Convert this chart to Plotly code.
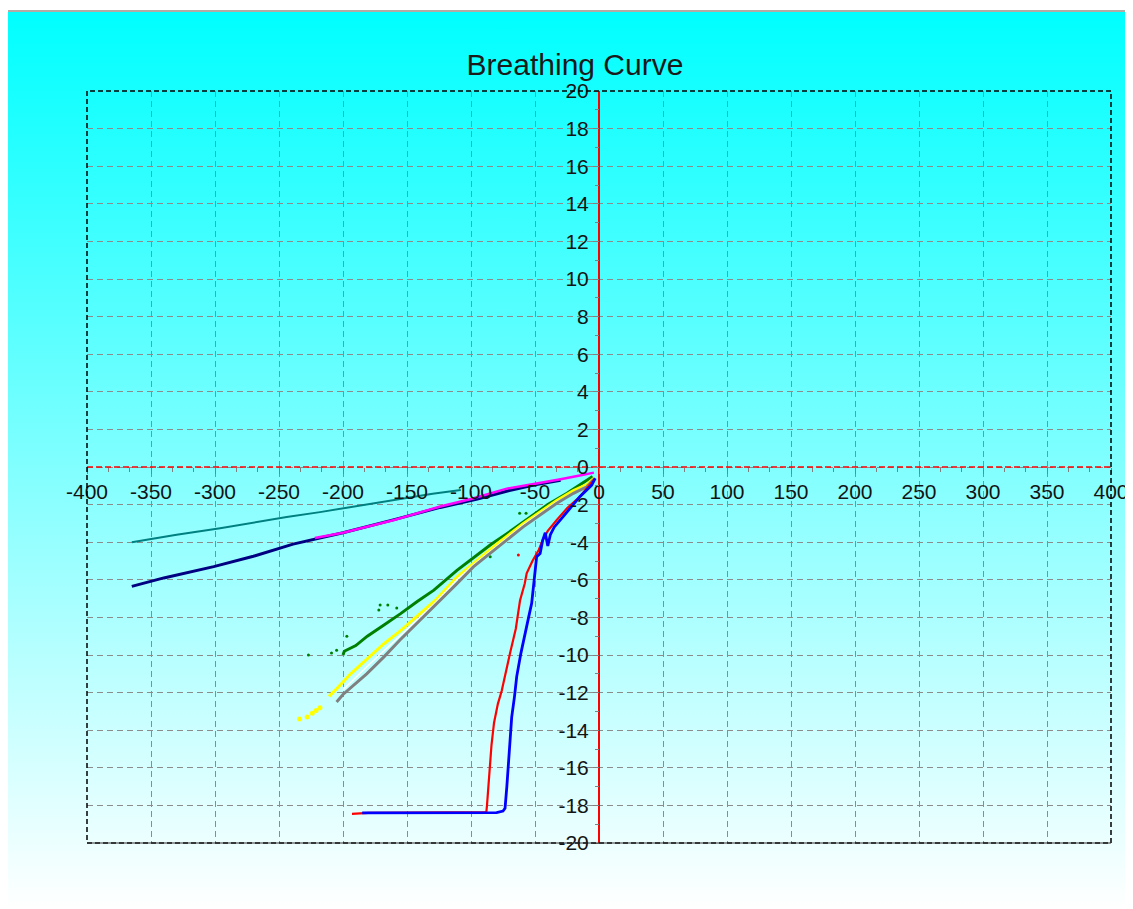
import base64
import plotly.graph_objects as go

# ---------------- data ----------------
teal_x = [-365, -352, -330, -296, -270, -244, -218, -192, -171, -150, -130, -108]
teal_y = [-4.0, -3.85, -3.6, -3.26, -2.95, -2.66, -2.4, -2.11, -1.86, -1.64, -1.42, -1.22]

navy_x = [-365, -340, -301, -270, -239, -200, -160, -124, -95, -70, -50, -30]
navy_y = [-6.35, -5.9, -5.3, -4.75, -4.1, -3.5, -2.8, -2.15, -1.7, -1.25, -0.95, -0.7]

magenta_x = [-222, -200, -186, -160, -124, -100, -72, -50, -30, -15, -4]
magenta_y = [-3.78, -3.5, -3.26, -2.82, -2.1, -1.7, -1.15, -0.9, -0.65, -0.45, -0.3]

green_x = [-200, -199, -190, -181, -168, -155, -142, -129, -111, -98, -85, -72, -55, -40, -25, -12, -5]
green_y = [-10.0, -9.8, -9.5, -9.0, -8.4, -7.8, -7.15, -6.55, -5.5, -4.8, -4.15, -3.55, -2.75, -2.0, -1.4, -0.8, -0.5]
green_dots_x = [-227, -209, -205, -197, -172, -171, -165, -158, -85, -62, -57]
green_dots_y = [-10.0, -9.9, -9.75, -9.0, -7.6, -7.34, -7.34, -7.5, -4.77, -2.46, -2.46]

yellow_x = [-211, -205, -194, -181, -168, -155, -142, -128, -111, -98, -80, -59, -45, -33, -20, -10, -4]
yellow_y = [-12.2, -11.8, -11.0, -10.2, -9.4, -8.7, -7.95, -7.1, -5.85, -5.1, -4.1, -3.0, -2.35, -1.78, -1.25, -0.95, -0.6]
yellow_dots_x = [-234, -228, -224, -221, -218]
yellow_dots_y = [-13.4, -13.3, -13.1, -12.95, -12.8]

white_x = [-200, -181, -155, -129, -111, -98, -59, -33, -10]
white_y = [-11.85, -10.6, -8.95, -7.3, -6.0, -5.2, -3.08, -1.85, -1.0]

gray_x = [-205, -200, -181.5, -168, -155.5, -142, -129.5, -111, -98, -80, -59, -45, -33, -20, -9.6, -4]
gray_y = [-12.5, -12.1, -11.0, -10.1, -9.2, -8.3, -7.43, -6.2, -5.3, -4.3, -3.17, -2.5, -1.93, -1.4, -1.05, -0.65]

red_x = [-193, -180, -150, -120, -100, -88, -87.5, -86, -85, -84.5, -84, -82, -79, -76, -73, -69.5,
         -65, -61.7, -58, -56.5, -52, -50, -47, -44, -40, -33, -25, -15, -7, -3]
red_y = [-18.45, -18.4, -18.38, -18.37, -18.37, -18.35, -18.0, -16.6, -15.8, -15.2, -14.8, -13.6, -12.6,
         -11.9, -10.9, -9.9, -8.6, -7.1, -6.2, -5.65, -5.0, -4.77, -4.4, -3.9, -3.4, -2.82, -2.2, -1.58, -0.96, -0.6]
red_dots_x = [-63]
red_dots_y = [-4.68]

blue_x = [-185, -160, -130, -100, -80, -75, -73.4, -72, -70.8, -68.2, -66, -64.3, -61, -57.8, -55, -52.6,
          -50, -48.7, -46, -44, -42, -40, -38, -35, -28, -20, -15, -10, -5.7, -3]
blue_y = [-18.4, -18.4, -18.4, -18.4, -18.38, -18.3, -18.15, -17.0, -15.9, -13.3, -12.2, -11.15, -9.9, -8.8,
          -8.0, -7.25, -5.8, -4.77, -4.6, -3.9, -3.5, -4.2, -3.6, -3.2, -2.64, -2.0, -1.58, -1.25, -0.96, -0.6]

x_ticks = list(range(-400, 401, 50))
y_ticks = list(range(-20, 21, 2))

# ---------------- figure ----------------
fig = go.Figure()

def line(x, y, color, width):
    fig.add_trace(go.Scatter(x=x, y=y, mode="lines", line=dict(color=color, width=width),
                             hoverinfo="x+y", showlegend=False))

def dots(x, y, color, size):
    fig.add_trace(go.Scatter(x=x, y=y, mode="markers", marker=dict(color=color, size=size),
                             hoverinfo="x+y", showlegend=False))

line(teal_x, teal_y, "#008080", 2)
line(navy_x, navy_y, "#000080", 3)
line(magenta_x, magenta_y, "#FF00FF", 2.5)
line(green_x, green_y, "#008000", 3)
dots(green_dots_x, green_dots_y, "#008000", 3)
line(yellow_x, yellow_y, "#FFFF00", 3)
dots(yellow_dots_x, yellow_dots_y, "#FFFF00", 5)
line(white_x, white_y, "#FFFFFF", 1.5)
line(gray_x, gray_y, "#808080", 3)
line(red_x, red_y, "#FF0000", 2.2)
dots(red_dots_x, red_dots_y, "#FF0000", 3)
line(blue_x, blue_y, "#0000FF", 2.8)

svg = ("<svg xmlns='http://www.w3.org/2000/svg' width='100' height='100' preserveAspectRatio='none'>"
       "<defs><linearGradient id='g' x1='0' y1='0' x2='0' y2='1'>"
       "<stop offset='0' stop-color='#00FFFF'/><stop offset='1' stop-color='#FFFFFF'/>"
       "</linearGradient></defs><rect width='100' height='100' fill='url(#g)'/></svg>")
src = "data:image/svg+xml;base64," + base64.b64encode(svg.encode()).decode()

# the page body has an 8px margin, so figure coordinates = page coordinates - 8
W, H = 1125, 901
L, T = 79, 83
pw, ph = 1024, 752
R, B = L + pw, T + ph

def px(x):
    return (x - L) / pw

def py(y):
    return (B - y) / ph

grid = dict(showgrid=True, gridcolor="#8c8c8c", gridwidth=1, griddash="6px,4px", zeroline=False,
            automargin=False)
tickfont = dict(family="Liberation Sans, Arial, sans-serif", size=21, color="#141414")

fig.update_layout(
    width=W, height=H,
    autosize=False,
    margin=dict(l=L, r=W - R, t=T, b=H - B, pad=0, autoexpand=False),
    paper_bgcolor="white",
    plot_bgcolor="rgba(0,0,0,0)",
    showlegend=False,
    title=dict(text="Breathing Curve", x=567 / W, xref="container", xanchor="center",
               y=1 - 56 / H, yref="container", yanchor="middle",
               font=dict(family="Liberation Sans, Arial, sans-serif", size=30, color="#1a1a1a")),
    xaxis=dict(range=[-400, 400], tickvals=x_ticks, ticktext=[str(v) for v in x_ticks],
               anchor="free", position=0.5, showline=False, ticks="outside", ticklen=6,
               tickcolor="#808080", tickfont=tickfont, ticklabelstandoff=0,
               minor=dict(dtick=50 / 3, ticks="outside", ticklen=4, tickcolor="#808080", showgrid=False),
               **grid),
    yaxis=dict(range=[-20, 20], tickvals=y_ticks, ticktext=[str(v) for v in y_ticks],
               anchor="free", position=0.5, showline=False, ticks="outside", ticklen=6,
               tickcolor="#808080", tickfont=tickfont, ticklabelstandoff=0,
               minor=dict(dtick=1, ticks="outside", ticklen=4, tickcolor="#808080", showgrid=False),
               **grid),
    images=[dict(source=src, xref="paper", yref="paper", x=px(0), y=py(4),
                 sizex=px(W) - px(0), sizey=py(4) - py(H), xanchor="left", yanchor="top",
                 sizing="stretch", layer="below")],
    shapes=[
        dict(type="line", xref="paper", yref="paper", x0=px(0), x1=px(W), y0=py(3), y1=py(3),
             line=dict(color="#B4ACA4", width=2), layer="below"),
        dict(type="line", xref="x", yref="y", x0=-400, x1=400, y0=0, y1=0,
             line=dict(color="#FF0000", width=1.5, dash="6px,3px"), layer="between"),
        dict(type="line", xref="x", yref="y", x0=0, x1=0, y0=-20, y1=20,
             line=dict(color="#FF0000", width=2), layer="between"),
        dict(type="rect", xref="paper", yref="paper", x0=0, x1=1, y0=0, y1=1,
             line=dict(color="#000000", width=1.5, dash="5px,3px"), layer="above"),
        dict(type="line", xref="paper", yref="paper", x0=0, x1=1, y0=0, y1=0,
             line=dict(color="#333333", width=1), layer="above"),
    ],
)

fig.write_html("out.html")
